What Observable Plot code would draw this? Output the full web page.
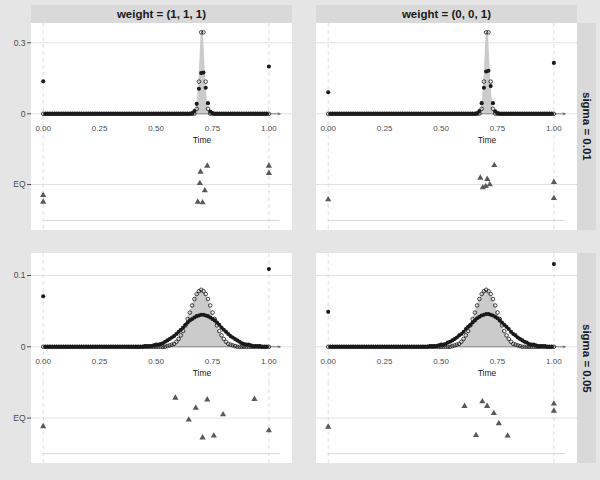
<!DOCTYPE html>
<html><head><meta charset="utf-8">
<script src="https://cdn.jsdelivr.net/npm/d3@7"></script>
<script src="https://cdn.jsdelivr.net/npm/@observablehq/plot@0.6"></script>
<style>
html,body{margin:0;padding:0;background:#e5e5e5;}
#fig{position:relative;width:600px;height:480px;background:#e5e5e5;overflow:hidden;font-family:"Liberation Sans",Arial,sans-serif;}
.strip{position:absolute;background:#d9d9d9;color:#1a1a1a;font-weight:bold;font-size:11.5px;display:flex;align-items:center;justify-content:center;white-space:nowrap;}
.strip.v span{writing-mode:vertical-rl;}
.panel{position:absolute;background:#ffffff;}
</style></head><body><div id="fig"></div><script>
// ---------------- data ----------------
const weightLabels = ["weight = (1, 1, 1)", "weight = (0, 0, 1)"];
const sigmaLabels = ["sigma = 0.01", "sigma = 0.05"];
const eqCategory = "EQ";
const timeTitle = "Time";
const xTicks = [0, 0.25, 0.5, 0.75, 1];
const yTicksS001 = [0, 0.3];
const yTicksS005 = [0, 0.1];

const times = [
 0,0.01,0.02,0.03,0.04,0.05,0.06,0.07,0.08,0.09,
 0.1,0.11,0.12,0.13,0.14,0.15,0.16,0.17,0.18,0.19,
 0.2,0.21,0.22,0.23,0.24,0.25,0.26,0.27,0.28,0.29,
 0.3,0.31,0.32,0.33,0.34,0.35,0.36,0.37,0.38,0.39,
 0.4,0.41,0.42,0.43,0.44,0.45,0.46,0.47,0.48,0.49,
 0.5,0.51,0.52,0.53,0.54,0.55,0.56,0.57,0.58,0.59,
 0.6,0.61,0.62,0.63,0.64,0.65,0.66,0.67,0.68,0.69,
 0.7,0.71,0.72,0.73,0.74,0.75,0.76,0.77,0.78,0.79,
 0.8,0.81,0.82,0.83,0.84,0.85,0.86,0.87,0.88,0.89,
 0.9,0.91,0.92,0.93,0.94,0.95,0.96,0.97,0.98,0.99,
 1];

// true weights (open circles + grey area)
const trueS001 = [
 0,0,0,0,0,0,0,0,0,0,
 0,0,0,0,0,0,0,0,0,0,
 0,0,0,0,0,0,0,0,0,0,
 0,0,0,0,0,0,0,0,0,0,
 0,0,0,0,0,0,0,0,0,0,
 0,0,0,0,0,0,0,0,0,0,
 0,0,0,0,0,0,0,0.001,0.021,0.136,
 0.344,0.344,0.136,0.021,0.001,0,0,0,0,0,
 0,0,0,0,0,0,0,0,0,0,
 0,0,0,0,0,0,0,0,0,0,
 0];
const trueS005 = [
 0,0,0,0,0,0,0,0,0,0,
 0,0,0,0,0,0,0,0,0,0,
 0,0,0,0,0,0,0,0,0,0,
 0,0,0,0,0,0,0,0,0,0,
 0,0,0,0,0,0,0,0,0,0,
 0,0,0,0,0,0.001,0.002,0.003,0.004,0.007,
 0.011,0.016,0.022,0.030,0.039,0.048,0.058,0.067,0.074,0.078,
 0.080,0.078,0.074,0.067,0.058,0.048,0.039,0.030,0.022,0.016,
 0.011,0.007,0.004,0.003,0.002,0.001,0,0,0,0,
 0,0,0,0,0,0,0,0,0,0,
 0];

// estimated weights (filled dots)
const estW111S001 = [
 0.137,0,0,0,0,0,0,0,0,0,
 0,0,0,0,0,0,0,0,0,0,
 0,0,0,0,0,0,0,0,0,0,
 0,0,0,0,0,0,0,0,0,0,
 0,0,0,0,0,0,0,0,0,0,
 0,0,0,0,0,0,0,0,0,0,
 0,0,0,0,0,0,0.003,0.012,0.042,0.106,
 0.172,0.174,0.110,0.045,0.010,0.003,0,0,0,0,
 0,0,0,0,0,0,0,0,0,0,
 0,0,0,0,0,0,0,0,0,0,
 0.200];
const estW001S001 = [
 0.091,0,0,0,0,0,0,0,0,0,
 0,0,0,0,0,0,0,0,0,0,
 0,0,0,0,0,0,0,0,0,0,
 0,0,0,0,0,0,0,0,0,0,
 0,0,0,0,0,0,0,0,0,0,
 0,0,0,0,0,0,0,0,0,0,
 0,0,0,0,0,0,0.003,0.012,0.045,0.110,
 0.179,0.182,0.117,0.045,0.011,0.003,0,0,0,0,
 0,0,0,0,0,0,0,0,0,0,
 0,0,0,0,0,0,0,0,0,0,
 0.215];
const estW111S005 = [
 0.071,0,0,0,0,0,0,0,0,0,
 0,0,0,0,0,0,0,0,0,0,
 0,0,0,0,0,0,0,0,0,0,
 0,0,0,0,0,0,0,0,0,0,
 0,0,0,0,0,0.001,0.001,0.001,0.001,0.002,
 0.003,0.003,0.004,0.005,0.007,0.009,0.011,0.013,0.015,0.018,
 0.021,0.024,0.027,0.031,0.034,0.037,0.039,0.041,0.043,0.044,
 0.045,0.045,0.044,0.043,0.041,0.039,0.037,0.034,0.031,0.027,
 0.024,0.021,0.018,0.015,0.013,0.011,0.009,0.007,0.005,0.004,
 0.003,0.003,0.002,0.001,0.001,0.001,0.001,0,0,0,
 0.109];
const estW001S005 = [
 0.049,0,0,0,0,0,0,0,0,0,
 0,0,0,0,0,0,0,0,0,0,
 0,0,0,0,0,0,0,0,0,0,
 0,0,0,0,0,0,0,0,0,0,
 0,0,0,0,0,0.001,0.001,0.001,0.001,0.002,
 0.003,0.003,0.004,0.006,0.007,0.009,0.011,0.013,0.016,0.018,
 0.021,0.025,0.028,0.031,0.034,0.037,0.040,0.042,0.044,0.045,
 0.046,0.046,0.045,0.044,0.042,0.040,0.037,0.034,0.031,0.028,
 0.025,0.021,0.018,0.016,0.013,0.011,0.009,0.007,0.006,0.004,
 0.003,0.003,0.002,0.001,0.001,0.001,0.001,0,0,0,
 0.116];

// EQ events (triangles): time and vertical jitter around the EQ row
const eqTimeW111S001   = [0, 0, 0.697, 0.727, 0.694, 0.716, 0.685, 0.706, 1, 1];
const eqJitterW111S001 = [-0.18, -0.29, 0.21, 0.31, 0.02, -0.10, -0.29, -0.30, 0.31, 0.19];
const eqTimeW001S001   = [0, 0.674, 0.705, 0.736, 0.685, 0.698, 0.716, 1, 1];
const eqJitterW001S001 = [-0.25, 0.11, 0.09, 0.32, -0.05, -0.03, 0.0, 0.04, -0.23];
const eqTimeW111S005   = [0, 0.586, 0.727, 0.676, 0.645, 0.797, 0.706, 0.756, 0.936, 1];
const eqJitterW111S005 = [-0.14, 0.34, 0.31, 0.17, -0.03, 0.06, -0.33, -0.30, 0.32, -0.21];
const eqTimeW001S005   = [0, 0.604, 0.683, 0.704, 0.734, 0.756, 0.655, 0.795, 1, 1];
const eqJitterW001S005 = [-0.15, 0.20, 0.28, 0.20, 0.08, -0.09, -0.29, -0.30, 0.24, 0.12];

// ---------------- layout / style ----------------
const colLeft = [31, 316];
const panelW = 261;
const yAxisW = 31;
const rows = [
  {top: 23, topH: 125, botH: 82, yDomain: [-0.1466, 0.3815], yTicks: yTicksS001, truth: trueS001,
   est: [estW111S001, estW001S001], tickDy: -19.7, titleDy: -5.7,
   evT: [eqTimeW111S001, eqTimeW001S001], evJ: [eqJitterW111S001, eqJitterW001S001]},
  {top: 253, topH: 129, botH: 81, yDomain: [-0.0501, 0.1309], yTicks: yTicksS005, truth: trueS005,
   est: [estW111S005, estW001S005], tickDy: -21.3, titleDy: -6.3,
   evT: [eqTimeW111S005, eqTimeW001S005], evJ: [eqJitterW111S005, eqJitterW001S005]}
];
const xDomain = [-0.0518, 1.1046];
const eqDomain = [-0.767, 0.6];
const eqFloor = -0.6;
const axisFrom = 0, axisTo = 1.05;
const font = "Liberation Sans, Arial, sans-serif";
const gridCol = "#e2e2e2";
const dashCol = "#d6d6d6";
const ink = "#1a1a1a";
const tickCol = "#4d4d4d";
const ends = [times[0], times[times.length - 1]];

const fig = document.getElementById("fig");
function place(el, left, top) {
  el.style.position = "absolute";
  el.style.left = left + "px";
  el.style.top = top + "px";
  fig.appendChild(el);
}

function topPlot(R, c) {
  const est = R.est[c];
  const pts = times.map((t, i) => ({t, truth: R.truth[i], est: est[i]}));
  const marks = [
    Plot.ruleY(R.yTicks, {stroke: gridCol, strokeWidth: 1}),
    Plot.ruleX(ends, {stroke: dashCol, strokeDasharray: "4,3", strokeWidth: 0.8}),
    Plot.areaY(pts, {x: "t", y: "truth", fill: "#cbcbcb"}),
    Plot.arrow([0], {x1: axisFrom, x2: axisTo, y1: d => d, y2: d => d, stroke: "#555", strokeWidth: 0.7, headLength: 5, headAngle: 50}),
    Plot.dot(pts, {x: "t", y: "est", r: 2.05, fill: ink, stroke: null}),
    Plot.dot(pts, {x: "t", y: "truth", r: 1.8, fill: "none", stroke: ink, strokeWidth: 0.8}),
    Plot.axisX(xTicks, {anchor: "bottom", tickSize: 0, tickPadding: 0, lineAnchor: "middle", dy: R.tickDy, tickFormat: d3.format(".2f"), fontSize: 8, color: tickCol, label: null}),
    Plot.text([timeTitle], {frameAnchor: "bottom", dx: 40, dy: R.titleDy, fontSize: 8.5, fill: ink})
  ];
  if (c === 0) marks.push(Plot.axisY(R.yTicks, {anchor: "left", tickSize: 4, tickPadding: 2, tickFormat: d => String(d), fontSize: 8.5, color: tickCol, label: null}));
  return Plot.plot({
    width: yAxisW + panelW, height: R.topH,
    marginLeft: yAxisW, marginRight: 0, marginTop: 0, marginBottom: 0,
    x: {domain: xDomain},
    y: {domain: R.yDomain, axis: null},
    style: {background: "transparent", overflow: "visible", fontFamily: font},
    marks
  });
}

function bottomPlot(R, c) {
  const ts = R.evT[c], js = R.evJ[c];
  const pts = ts.map((t, i) => ({t, j: js[i]}));
  const marks = [
    Plot.ruleY([0], {stroke: gridCol, strokeWidth: 1}),
    Plot.ruleX(ends, {stroke: dashCol, strokeDasharray: "4,3", strokeWidth: 0.8}),
    Plot.ruleY([eqFloor], {x1: axisFrom, x2: axisTo, stroke: "#d9d9d9", strokeWidth: 1}),
    Plot.dot(pts, {x: "t", y: "j", symbol: "triangle", r: 2.3, fill: "#595959", stroke: null})
  ];
  if (c === 0) marks.push(Plot.axisY([0], {anchor: "left", tickSize: 4, tickPadding: 2, tickFormat: () => eqCategory, fontSize: 8.5, color: tickCol, label: null}));
  return Plot.plot({
    width: yAxisW + panelW, height: R.botH,
    marginLeft: yAxisW, marginRight: 0, marginTop: 0, marginBottom: 0,
    x: {domain: xDomain, axis: null},
    y: {domain: eqDomain, axis: null},
    style: {background: "transparent", overflow: "visible", fontFamily: font},
    marks
  });
}

rows.forEach((R, r) => {
  [0, 1].forEach(c => {
    const bg = document.createElement("div");
    bg.className = "panel";
    bg.style.width = panelW + "px";
    bg.style.height = (R.topH + R.botH) + "px";
    place(bg, colLeft[c], R.top);
    place(topPlot(R, c), colLeft[c] - yAxisW, R.top);
    place(bottomPlot(R, c), colLeft[c] - yAxisW, R.top + R.topH);
  });
  const s = document.createElement("div");
  s.className = "strip v";
  s.style.width = "19px";
  s.style.height = (R.topH + R.botH) + "px";
  s.innerHTML = "<span>" + sigmaLabels[r] + "</span>";
  place(s, 577, R.top);
});
weightLabels.forEach((lab, c) => {
  const s = document.createElement("div");
  s.className = "strip";
  s.style.width = panelW + "px";
  s.style.height = "18px";
  s.textContent = lab;
  place(s, colLeft[c], 5);
});
</script></body></html>
